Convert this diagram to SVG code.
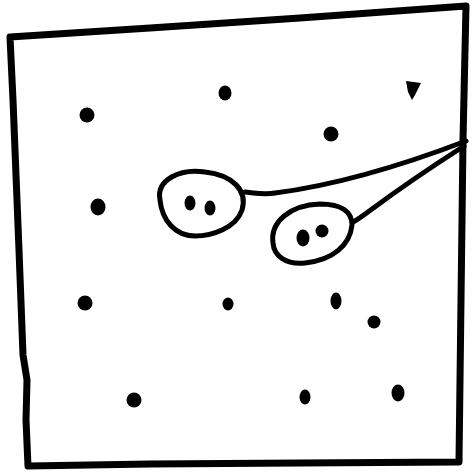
<svg xmlns="http://www.w3.org/2000/svg" width="472" height="476" viewBox="0 0 472 476">
<style>
.s{fill:none;stroke:#000;stroke-linecap:round;stroke-linejoin:round}
.b{stroke-width:7}
.t{stroke-width:5}
.d{fill:#000}
</style>
<rect width="472" height="476" fill="#fff"/>
<path class="s b" d="M10,37 L150,28 L300,18 L466,6 L463,140 L461,300 L459,462 L300,463 L150,464 L28,466 L26,420 L27,380 L23,355 L19,250 L13,100 Z"/>
<g id="dots">
<ellipse class="d" cx="87" cy="115" rx="7.5" ry="7.5"/>
<ellipse class="d" cx="225" cy="93" rx="6.5" ry="7.5"/>
<path class="d" d="M406,81 L421,83 L415,95 L412,100 L408,92 Z"/>
<ellipse class="d" cx="331" cy="134" rx="7.5" ry="7.5"/>
<ellipse class="d" cx="98" cy="207" rx="7.5" ry="8.5"/>
<ellipse class="d" cx="85" cy="303" rx="7.5" ry="7.5"/>
<ellipse class="d" cx="228" cy="304" rx="5.5" ry="6.5"/>
<ellipse class="d" cx="336" cy="301" rx="5.5" ry="8.5"/>
<ellipse class="d" cx="374" cy="322" rx="6.5" ry="6.5"/>
<ellipse class="d" cx="134" cy="400" rx="7.5" ry="7.5"/>
<ellipse class="d" cx="305" cy="397" rx="5.5" ry="7.5"/>
<ellipse class="d" cx="398" cy="393" rx="6.5" ry="8.5"/>
</g>
<g id="group1">
<path class="s t" d="M160,200 C156,180 180,168 205,172 C232,175 248,190 242,210 C236,228 212,236 195,236 C175,236 162,220 160,200 Z"/>
<ellipse class="d" cx="190" cy="203" rx="5.5" ry="7.5"/>
<ellipse class="d" cx="210" cy="208" rx="5.5" ry="7.5"/>
</g>
<g id="group2">
<path class="s t" d="M273,243 C270,222 290,205 320,204 C342,204 352,212 352,225 C350,245 333,260 305,263 C286,265 274,256 273,243 Z"/>
<ellipse class="d" cx="303" cy="238" rx="6.5" ry="8.5"/>
<ellipse class="d" cx="322" cy="231" rx="6.5" ry="6.5"/>
</g>
<g id="connectors">
<path class="s t" d="M245,192 C255,193 265,195 275,193 C330,186 390,170 466,141"/>
<path class="s t" d="M353,222 C365,216 380,200 464,146"/>
</g>
</svg>
